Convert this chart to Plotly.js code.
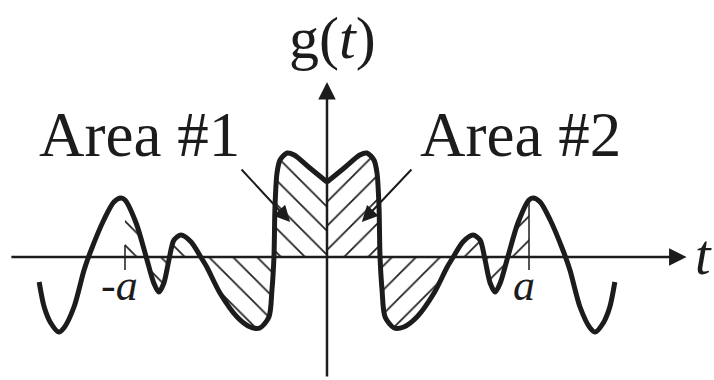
<!DOCTYPE html>
<html>
<head>
<meta charset="utf-8">
<script src="https://cdn.plot.ly/plotly-3.0.1.min.js"></script>
<style>
  html, body { margin: 0; padding: 0; background: #fff; }
  #chart { width: 714px; height: 380px; }
</style>
</head>
<body>
<div id="chart"></div>
<script>
// g(t) sampled along the curve, left branch (t <= 0) and right branch (t >= 0)
const tLeft = [-5.70, -5.60, -5.47, -5.31, -5.21, -5.01, -4.81, -4.67, -4.42, -4.22, -4.08, -4.0, -3.78, -3.58, -3.43, -3.33, -3.23, -3.13, -3.03, -2.89, -2.69, -2.50, -2.38, -2.12, -1.78, -1.52, -1.33, -1.15, -1.09, -1.05, -1.03, -0.99, -0.93, -0.79, -0.65, -0.34, 0];
const gLeft = [-1.0, -2.0, -2.64, -3.0, -2.84, -2.0, -0.52, 0.28, 1.48, 2.2, 2.36, 2.28, 1.36, 0, -1.04, -1.4, -1.04, -0.12, 0.68, 0.88, 0.6, 0, -0.4, -1.44, -2.4, -2.8, -2.84, -2.4, -1.32, 0, 2.0, 3.36, 3.88, 4.16, 4.08, 3.56, 3.0];

const tRight = [0, 0.34, 0.65, 0.79, 0.93, 0.99, 1.03, 1.05, 1.09, 1.15, 1.33, 1.52, 1.78, 2.12, 2.38, 2.50, 2.69, 2.89, 3.03, 3.13, 3.23, 3.33, 3.43, 3.58, 3.78, 4.0, 4.08, 4.22, 4.42, 4.67, 4.81, 5.01, 5.21, 5.31, 5.47, 5.60, 5.70];
const gRight = [3.0, 3.56, 4.08, 4.16, 3.88, 3.36, 2.0, 0, -1.32, -2.4, -2.84, -2.8, -2.4, -1.44, -0.4, 0, 0.6, 0.88, 0.68, -0.12, -1.04, -1.4, -1.04, 0, 1.36, 2.28, 2.36, 2.2, 1.48, 0.28, -0.52, -2.0, -2.84, -3.0, -2.64, -2.0, -1.0];

// integration limit a
const aValue = 4;

// axis extents (t axis and g axis, including arrow tips)
const tAxisStart = -6.28, tAxisEnd = 7.12;
const gAxisStart = -4.84, gAxisEnd = 7.0;
// ends of the tick marks at -a and a
const tickLow = -0.52;
const tickHighLeft = 0.48;

const INK = '#1c1c1c';
const SERIF = 'Liberation Serif, Times New Roman, serif';

// keep only the samples inside [-a, a] for the shaded areas
function within(ts, gs) {
  const x = [], y = [];
  ts.forEach((t, i) => { if (Math.abs(t) <= aValue + 1e-9) { x.push(t); y.push(gs[i]); } });
  return { x, y };
}
const area1 = within(tLeft, gLeft);
const area2 = within(tRight, gRight);
const gAtA = gRight[tRight.indexOf(aValue)];

const hatch = (shape) => ({
  shape: shape, fgcolor: INK, bgcolor: 'rgba(0,0,0,0)', size: 17, solidity: 0.1, fillmode: 'replace'
});

const traces = [
  { x: area1.x, y: area1.y, mode: 'lines', line: { width: 0, shape: 'spline', smoothing: 0.8 },
    fill: 'tozeroy', fillcolor: 'rgba(0,0,0,0)', fillpattern: hatch('\\'), hoverinfo: 'skip' },
  { x: area2.x, y: area2.y, mode: 'lines', line: { width: 0, shape: 'spline', smoothing: 0.8 },
    fill: 'tozeroy', fillcolor: 'rgba(0,0,0,0)', fillpattern: hatch('/'), hoverinfo: 'skip' },
  // tick at -a
  { x: [-aValue, -aValue], y: [tickHighLeft, tickLow], mode: 'lines', line: { color: INK, width: 1.5 } },
  // boundary line at a
  { x: [aValue, aValue], y: [gAtA, tickLow], mode: 'lines', line: { color: INK, width: 1.5 } },
  { x: tLeft, y: gLeft, mode: 'lines', line: { color: INK, width: 5, shape: 'spline', smoothing: 0.8 } },
  { x: tRight, y: gRight, mode: 'lines', line: { color: INK, width: 5, shape: 'spline', smoothing: 0.8 } }
];

const arrow = (x, y, ax, ay, w, size) => ({
  x: x, y: y, ax: ax, ay: ay, xref: 'x', yref: 'y', axref: 'x', ayref: 'y',
  text: '', showarrow: true, arrowhead: 2, arrowsize: size, arrowwidth: w, arrowcolor: INK
});

const label = (text, x, y, size, extra) => Object.assign({
  x: x, y: y, xref: 'x', yref: 'y', text: text, showarrow: false,
  font: { family: SERIF, size: size, color: INK }, xanchor: 'center', yanchor: 'middle'
}, extra || {});

const layout = {
  width: 714, height: 380,
  margin: { l: 0, r: 0, t: 0, b: 0 },
  paper_bgcolor: '#fff', plot_bgcolor: '#fff',
  showlegend: false,
  xaxis: { range: [-6.475, 7.663], visible: false, fixedrange: true },
  yaxis: { range: [-4.92, 10.28], visible: false, fixedrange: true },
  annotations: [
    // coordinate axes
    arrow(tAxisEnd, 0, tAxisStart, 0, 2.5, 1.4),
    arrow(0, gAxisEnd, 0, gAxisStart, 2.5, 1.4),
    // pointers to the two areas
    arrow(-0.73, 1.4, -1.72, 3.56, 2, 1.6),
    arrow(0.69, 1.4, 1.70, 3.56, 2, 1.6),
    label('Area #1', -3.72, 4.9, 63),
    label('Area #2', 3.84, 4.9, 63),
    label('g(<i>t</i>)', 0.1, 8.75, 60),
    label('<i>t</i>', 7.45, 0.1, 56),
    label('<i>a</i>', 3.9, -1.15, 44),
    label('-<i>a</i>', -4.1, -1.15, 44)
  ]
};

Plotly.newPlot('chart', traces, layout, { staticPlot: true, displayModeBar: false });
</script>
</body>
</html>
